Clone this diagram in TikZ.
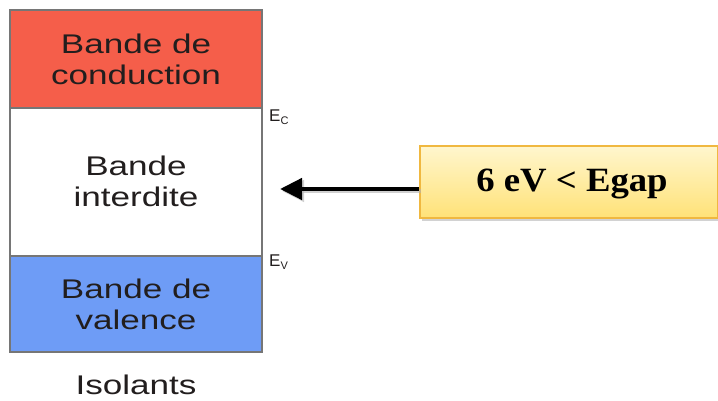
\documentclass[tikz,border=0pt]{standalone}
\usepackage{fontspec}
\setmainfont{Liberation Sans}
\newfontfamily\boxfont{Liberation Serif}
\usetikzlibrary{arrows.meta,shadows}
\definecolor{condred}{RGB}{245,94,74}
\definecolor{valblue}{RGB}{110,156,246}
\definecolor{edgegray}{RGB}{118,118,118}
\definecolor{labelink}{RGB}{34,30,30}
\definecolor{boxtop}{RGB}{255,246,205}
\definecolor{boxbot}{RGB}{255,226,120}
\definecolor{boxedge}{RGB}{240,184,64}
\tikzset{
  band/.style={rectangle, draw=edgegray, line width=1.5pt, minimum width=252pt, inner sep=0pt},
  bandtext/.style={font=\fontsize{27}{31}\selectfont, text=labelink, align=center, xscale=1.3},
  levellabel/.style={font=\fontsize{17}{17}\selectfont, text=labelink, anchor=west, inner sep=0pt},
  gapbox/.style={rectangle, draw=boxedge, line width=2pt, top color=boxtop, bottom color=boxbot,
    minimum width=298pt, minimum height=71pt, inner sep=0pt,
    drop shadow={shadow xshift=2pt, shadow yshift=-3pt, opacity=0.35}},
  bigarrow/.style={line width=4.5pt, -{Triangle[length=22pt,width=21pt]}}
}
\begin{document}
\begin{tikzpicture}[x=1pt,y=-1pt]
\useasboundingbox (0,0) rectangle (718,401);
\fill[white] (0,0) rectangle (718,401);
% energy bands
\node[band, fill=white, minimum height=148pt] (gap) at (136,182) {};
\node[band, fill=condred, minimum height=98pt] (cond) at (136,59) {};
\node[band, fill=valblue, minimum height=96pt] (val) at (136,304) {};
\node[bandtext] (condtxt) at (cond.center) {Bande de\\conduction};
\node[bandtext] (gaptxt) at (136,181) {Bande\\interdite};
\node[bandtext] (valtxt) at (val.center) {Bande de\\valence};
\node[bandtext] (mat) at (136,385) {Isolants};
% level labels
\node[levellabel] (ec) at (269,117) {E\raisebox{-3pt}{\fontsize{11}{11}\selectfont C}};
\node[levellabel] (ev) at (269,262) {E\raisebox{-3pt}{\fontsize{11}{11}\selectfont V}};
% gap energy box and arrow
\node[gapbox] (egap) at (569,182) {};
\node[font=\boxfont\bfseries\fontsize{34}{34}\selectfont, xscale=1.08] (egaptxt) at (572,184) {6 eV < Egap};
\coordinate (tip) at (280,189);
\draw[bigarrow, black!30, opacity=0.6] ([xshift=2pt,yshift=-2pt]egap.west |- tip) -- ([xshift=2pt,yshift=-2pt]tip);
\draw[bigarrow] (egap.west |- tip) -- (tip);
\end{tikzpicture}
\end{document}
